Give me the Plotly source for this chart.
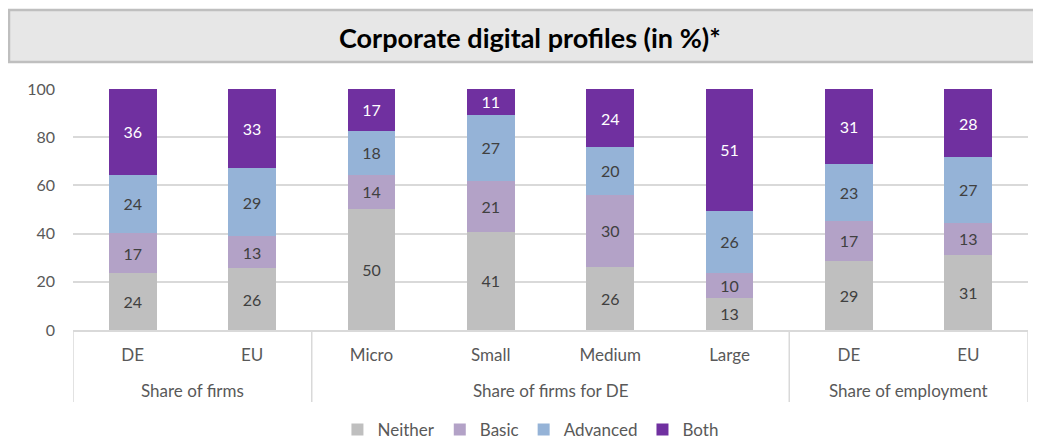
import plotly.graph_objects as go

groups = ["Share of firms", "Share of firms for DE", "Share of employment"]
group_sizes = [2, 4, 2]
categories = ["DE", "EU", "Micro", "Small", "Medium", "Large", "DE", "EU"]

neither = [23.6, 25.6, 50.3, 40.7, 26.0, 13.4, 28.7, 31.2]
basic = [16.6, 13.2, 14.1, 21.2, 30.2, 10.4, 16.7, 13.3]
advanced = [24.2, 28.6, 18.3, 27.4, 19.7, 25.6, 23.4, 27.2]
both = [35.6, 32.6, 17.3, 10.7, 24.1, 50.6, 31.2, 28.3]

series = [
    ("Neither", neither, "#bfbfbf", "#404040"),
    ("Basic", basic, "#b3a2c7", "#404040"),
    ("Advanced", advanced, "#95b3d7", "#404040"),
    ("Both", both, "#7030a0", "#ffffff"),
]

FONT = "Lato"
GRID = "#d9d9d9"
xpos = list(range(len(categories)))

# page body has an 8px margin, so the figure is 8px smaller and everything is shifted by 8px
W, H = 1033, 431
PL, PR, PT, PB = 65, 1020, 81, 322   # plot area in figure pixels
PH = PB - PT

def py(page_y):
    """page pixel y -> paper y"""
    return (PB - (page_y - 8)) / PH

fig = go.Figure()
for name, vals, color, tcolor in series:
    fig.add_trace(go.Bar(
        name=name,
        x=xpos,
        y=vals,
        marker=dict(color=color, line=dict(width=0)),
        texttemplate="%{y:.0f}",
        textposition="inside",
        insidetextanchor="middle",
        textangle=0,
        textfont=dict(family=FONT, size=16, color=tcolor),
        hoverinfo="skip",
    ))

fig.update_layout(
    barmode="stack",
    bargap=0.6,
    width=W, height=H,
    margin=dict(l=PL, r=W - PR, t=PT, b=H - PB, autoexpand=False),
    paper_bgcolor="white",
    plot_bgcolor="white",
    font=dict(family=FONT, size=17, color="#595959"),
    showlegend=True,
    legend=dict(orientation="h", x=0.479, xanchor="center", yref="container", y=(H - (430 - 8)) / H,
                yanchor="middle", font=dict(family=FONT, size=17, color="#595959"),
                traceorder="normal", itemwidth=30, tracegroupgap=0),
)

fig.update_yaxes(range=[0, 100], dtick=20, showgrid=True, gridcolor=GRID, gridwidth=1.5,
                 zeroline=False, showline=False, ticks="", ticklabelstandoff=17, automargin=False,
                 tickfont=dict(family=FONT, size=16, color="#595959"))
fig.update_xaxes(range=[-0.5, len(categories) - 0.5], tickmode="array", tickvals=xpos, ticktext=categories,
                 showgrid=False, zeroline=False, showline=True, linecolor=GRID, linewidth=1.5,
                 ticks="", ticklabelstandoff=9, automargin=False,
                 tickfont=dict(family=FONT, size=17, color="#595959"))

# group dividers and group labels
bounds = [-0.5]
for s in group_sizes:
    bounds.append(bounds[-1] + s)
for b in bounds:
    fig.add_shape(type="line", xref="x", yref="paper", x0=b, x1=b, y0=0, y1=py(402),
                  line=dict(color=GRID, width=1.5))
for g, lo, hi in zip(groups, bounds[:-1], bounds[1:]):
    fig.add_annotation(text=g, xref="x", yref="paper", x=(lo + hi) / 2, y=py(390),
                       xanchor="center", yanchor="middle", showarrow=False,
                       font=dict(family=FONT, size=17, color="#595959"))

# Title box
PW = PR - PL
fig.add_shape(type="rect", xref="paper", yref="paper",
              x0=-(PL - 1) / PW, x1=(W + 10 - PL) / PW, y0=py(62), y1=py(10),
              fillcolor="#e7e7e7", line=dict(color="#bfbfbf", width=2.5), layer="below")
fig.add_annotation(text="<b>Corporate digital profiles (in %)*</b>", xref="paper", yref="paper",
                   x=(530 - 8 - PL) / PW, y=py(37), xanchor="center", yanchor="middle",
                   showarrow=False, font=dict(family=FONT, size=27, color="#000000"))

fig.write_html("out.html")
